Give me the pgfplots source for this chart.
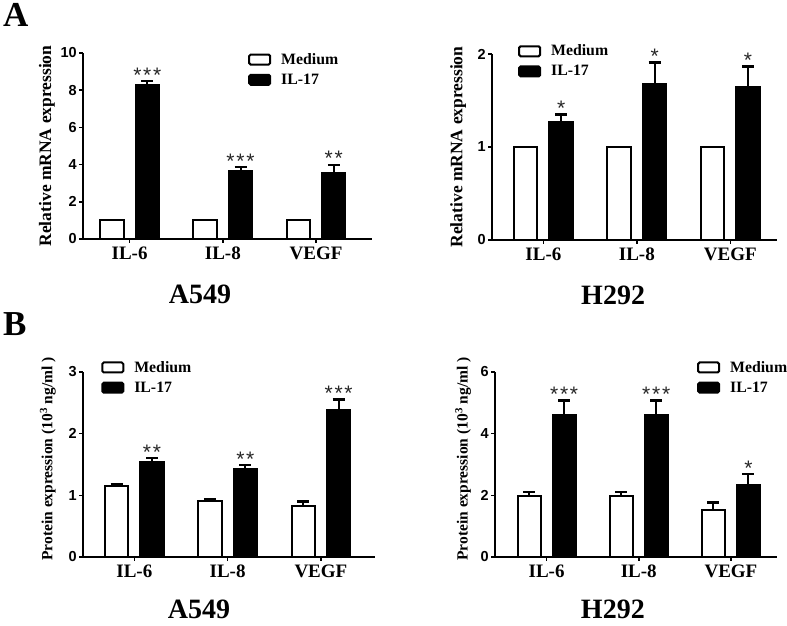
\documentclass[border=0pt]{standalone}
\usepackage{fontspec}
\setmainfont{Liberation Serif}
\newfontfamily\sansf{Liberation Sans}
\usepackage{pgfplots}
\pgfplotsset{compat=1.18}
\newcommand\sone{*}
\newcommand\stwo{*\kern1.8pt*}
\newcommand\sthree{*\kern1.8pt*\kern1.8pt*}
\tikzset{ttl/.style={font=\fontsize{28}{28}\selectfont\bfseries, inner sep=0pt}}
\pgfplotsset{
  panel/.style={
    scale only axis,
    anchor=south west,
    clip=false,
    axis lines*=left,
    axis line style={line width=2pt},
    ymin=0,
    xtick={0,1,2}, xticklabels={IL-6,IL-8,VEGF},
    tick align=outside,
    major tick length=4pt,
    every tick/.style={line width=1.5pt, black},
    xticklabel style={font=\fontsize{19}{19}\selectfont\bfseries, inner sep=0pt, yshift=-4pt},
    yticklabel style={font=\sansf\fontsize{14.5}{14.5}\selectfont\bfseries, inner sep=0pt, xshift=-2pt},
    ylabel style={anchor=center},
    legend style={draw=none, fill=none, font=\fontsize{15.8}{15.8}\selectfont\bfseries, anchor=north west, row sep=4pt, inner sep=0pt, cells={anchor=west, inner xsep=1pt}},
  },
  whitebar/.style={ybar, bar width=0.25, bar shift=0, fill=white, draw=black, line width=2pt,
    legend image code/.code={\draw[line width=2pt, rounded corners=1.5pt, fill=white, draw=black] (0pt,-5pt) rectangle (21pt,5pt); \path[draw=none, fill=none] (0pt,0pt) -- (30pt,0pt);},
    error bars/y dir=plus, error bars/y explicit,
    error bars/error bar style={line width=2pt, black},
    error bars/error mark options={rotate=90, line width=2.5pt, mark size=6pt, black}},
  blackbar/.style={ybar, bar width=0.25, bar shift=0, fill=black, draw=black, line width=2pt,
    legend image code/.code={\draw[line width=2pt, rounded corners=1.5pt, fill=black, draw=black] (0pt,-5pt) rectangle (21pt,5pt); \path[draw=none, fill=none] (0pt,0pt) -- (30pt,0pt);},
    error bars/y dir=plus, error bars/y explicit,
    error bars/error bar style={line width=2pt, black},
    error bars/error mark options={rotate=90, line width=2.5pt, mark size=6pt, black}},
  stars/.style={draw=none, mark=none, forget plot, nodes near coords, point meta=explicit symbolic,
    nodes near coords style={anchor=base, yshift=-1pt, font=\sansf\fontsize{21}{21}\selectfont, text=black!85, inner sep=0pt}},
}
\begin{document}
\begin{tikzpicture}
\useasboundingbox (0,0) rectangle (787pt,626pt);
\node[anchor=north west, inner sep=0pt, font=\fontsize{35}{35}\selectfont\bfseries] at (3pt,623pt) {A};
\node[anchor=north west, inner sep=0pt, font=\fontsize{35}{35}\selectfont\bfseries] at (3pt,314pt) {B};
% Panel A549 mRNA
\begin{axis}[panel, at={(83pt,387pt)}, width=289pt, height=186pt,
  xmin=-0.5, xmax=2.6, ymax=10, ytick={0,2,4,6,8,10}, yticklabels={0,2,4,6,8,10},
  ylabel={Relative mRNA expression},
  ylabel style={at={(axis description cs:-0.125,0.5)}, font=\fontsize{17.5}{17.5}\selectfont\bfseries},
  legend style={at={(axis description cs:0.571,1.01)}}]
\addplot[whitebar] coordinates {(-0.19,1) (0.81,1) (1.81,1)};
\addplot[blackbar] coordinates {(0.19,8.26) +- (0,0.23) (1.19,3.64) +- (0,0.23) (2.19,3.53) +- (0,0.45)};
\addplot[stars] coordinates {(0.19,8.49) [\sthree] (1.19,3.87) [\sthree] (2.19,3.98) [\stwo]};
\legend{Medium,IL-17}
\node[ttl] at (axis description cs:0.405,-0.30) {A549};
\end{axis}
% Panel H292 mRNA
\begin{axis}[panel, at={(492pt,386pt)}, width=285pt, height=186pt,
  xmin=-0.55, xmax=2.5, ymax=2, ytick={0,1,2}, yticklabels={0,1,2},
  ylabel={Relative mRNA expression},
  ylabel style={at={(axis description cs:-0.119,0.5)}, font=\fontsize{17.5}{17.5}\selectfont\bfseries},
  legend style={at={(axis description cs:0.091,1.06)}}]
\addplot[whitebar] coordinates {(-0.19,1) (0.81,1) (1.81,1)};
\addplot[blackbar] coordinates {(0.19,1.266) +- (0,0.083) (1.19,1.678) +- (0,0.229) (2.19,1.642) +- (0,0.222)};
\addplot[stars] coordinates {(0.19,1.349) [\sone] (1.19,1.907) [\sone] (2.19,1.864) [\sone]};
\legend{Medium,IL-17}
\node[ttl] at (axis description cs:0.425,-0.30) {H292};
\end{axis}
% Panel A549 protein
\begin{axis}[panel, at={(83pt,69pt)}, width=292pt, height=185pt,
  xmin=-0.55, xmax=2.58, ymax=3, ytick={0,1,2,3}, yticklabels={0,1,2,3},
  ylabel={Protein expression (10\textsuperscript{3} ng/ml )},
  ylabel style={at={(axis description cs:-0.12,0.53)}, font=\fontsize{15.5}{15.5}\selectfont\bfseries},
  legend style={at={(axis description cs:0.062,1.07)}}]
\addplot[whitebar] coordinates {(-0.19,1.15) +- (0,0.03) (0.81,0.90) +- (0,0.035) (1.81,0.82) +- (0,0.08)};
\addplot[blackbar] coordinates {(0.19,1.54) +- (0,0.065) (1.19,1.43) +- (0,0.06) (2.19,2.39) +- (0,0.16)};
\addplot[stars] coordinates {(0.19,1.605) [\stwo] (1.19,1.49) [\stwo] (2.19,2.55) [\sthree]};
\legend{Medium,IL-17}
\node[ttl] at (axis description cs:0.397,-0.285) {A549};
\end{axis}
% Panel H292 protein
\begin{axis}[panel, at={(495pt,69pt)}, width=282pt, height=185pt,
  xmin=-0.56, xmax=2.5, ymax=6, ytick={0,2,4,6}, yticklabels={0,2,4,6},
  ylabel={Protein expression (10\textsuperscript{3} ng/ml )},
  ylabel style={at={(axis description cs:-0.113,0.53)}, font=\fontsize{15.5}{15.5}\selectfont\bfseries},
  legend style={at={(axis description cs:0.716,1.07)}}]
\addplot[whitebar] coordinates {(-0.19,1.97) +- (0,0.14) (0.81,1.97) +- (0,0.14) (1.81,1.53) +- (0,0.23)};
\addplot[blackbar] coordinates {(0.19,4.59) +- (0,0.48) (1.19,4.59) +- (0,0.48) (2.19,2.34) +- (0,0.35)};
\addplot[stars] coordinates {(0.19,5.07) [\sthree] (1.19,5.07) [\sthree] (2.19,2.69) [\sone]};
\legend{Medium,IL-17}
\node[ttl] at (axis description cs:0.418,-0.285) {H292};
\end{axis}
\end{tikzpicture}
\end{document}
